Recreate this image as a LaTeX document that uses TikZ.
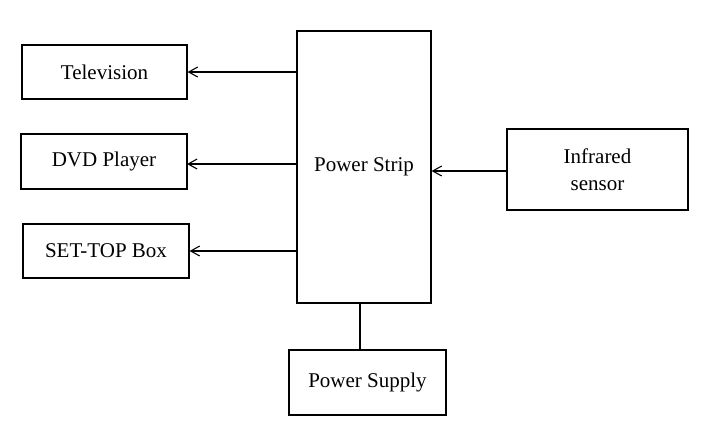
\documentclass[tikz,border=0pt]{standalone}
\usepackage{fontspec}
\setmainfont{Liberation Serif}
\usetikzlibrary{arrows.meta}

\begin{document}
\begin{tikzpicture}[x=1pt,y=-1pt]
  \useasboundingbox (0,0) rectangle (707,432);
  % Define block and connector styles
  \tikzset{block/.style={draw, line width=1.2pt, inner sep=0pt, align=center, font=\fontsize{21}{26}\selectfont}}
  \tikzset{feed/.style={line width=1.2pt, -{Straight Barb[length=9pt,width=10pt,line width=1.1pt]}}}
  % The blocks
  \node[block, minimum width=165pt, minimum height=54pt] (tv) at (104.5,72) {Television};
  \node[block, minimum width=166pt, minimum height=55pt] (dvd) at (104,161.5) {DVD Player};
  \node[block, minimum width=166pt, minimum height=54pt] (stb) at (106,251) {SET-TOP Box};
  \node[block, minimum width=134pt, minimum height=272pt] (strip) at (364,167) {\raisebox{-3pt}{Power Strip}};
  \node[block, minimum width=181pt, minimum height=81pt] (ir) at (597.5,169.5) {Infrared\\[1pt]sensor};
  \node[block, minimum width=157pt, minimum height=65pt] (supply) at (367.5,382.5) {Power Supply};
  % Connections from the strip
  \coordinate (dvdin) at (187,164);
  \draw[feed] (strip.west |- tv.east) -- (tv.east);
  \draw[feed] (strip.west |- dvdin) -- (dvdin);
  \draw[feed] (strip.west |- stb.east) -- (stb.east);
  \draw[feed] (ir.west |- 0,171) -- (strip.east |- 0,171);
  \draw[line width=1.2pt] (360,0 |- strip.south) -- (360,0 |- supply.north);
\end{tikzpicture}
\end{document}
